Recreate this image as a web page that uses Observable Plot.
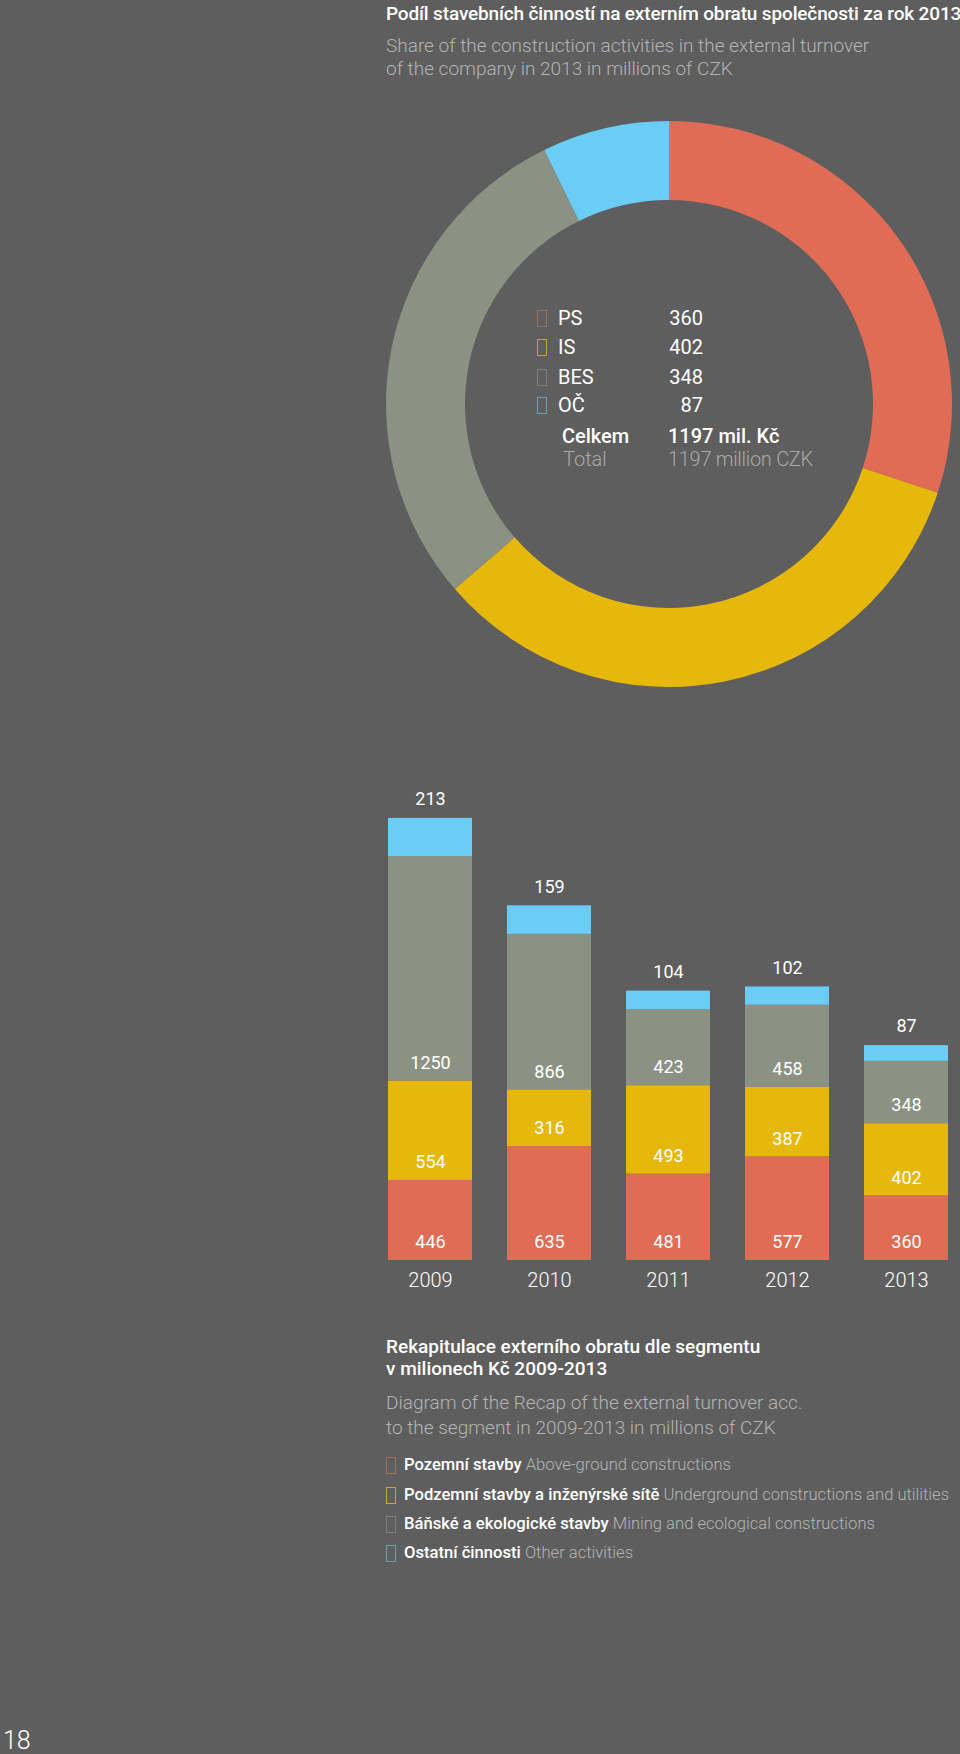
<!DOCTYPE html>
<html><head><meta charset="utf-8">
<script src="https://cdn.jsdelivr.net/npm/d3@7"></script>
<script src="https://cdn.jsdelivr.net/npm/@observablehq/plot@0.6"></script>
<style>
html,body{margin:0;padding:0;background:#5e5e5e;}
#page{position:relative;width:960px;height:1754px;background:#5e5e5e;overflow:hidden;font-family:Roboto,"Noto Sans",sans-serif;color:#fff;}
.abs{position:absolute;white-space:nowrap;}
.box{position:absolute;box-sizing:border-box;border:1px solid;width:10px;height:17px;}
</style></head><body><div id="page"></div>
<script>
// ---- data ----
const segments = ["PS", "IS", "BES", "OČ"];
const segmentCz = ["Pozemní stavby", "Podzemní stavby a inženýrské sítě", "Báňské a ekologické stavby", "Ostatní činnosti"];
const segmentEn = ["Above-ground constructions", "Underground constructions and utilities", "Mining and ecological constructions", "Other activities"];
const colors = ["#e06c55", "#e6b80b", "#8b9283", "#6bcdf5"];
const boxColors = ["#a0705f", "#c9a52a", "#7e7e7e", "#6d9db3"];
const years = ["2009", "2010", "2011", "2012", "2013"];
const valuesPS = [446, 635, 481, 577, 360];
const valuesIS = [554, 316, 493, 387, 402];
const valuesBES = [1250, 866, 423, 458, 348];
const valuesOC = [213, 159, 104, 102, 87];
const share2013 = [360, 402, 348, 87];
const totalLabelCz = "1197 mil. Kč";
const totalLabelEn = "1197 million CZK";

const page = document.getElementById("page");
function txt(content, x, cy, size, weight, color, opts = {}) {
  const d = document.createElement("div");
  d.className = "abs";
  d.style.fontSize = size + "px";
  d.style.lineHeight = (size * 1.2) + "px";
  d.style.fontWeight = weight;
  d.style.color = color;
  d.style.top = (cy - 0.587 * size) + "px";
  if (opts.right != null) { d.style.right = (960 - opts.right) + "px"; d.style.textAlign = "right"; }
  else d.style.left = x + "px";
  if (opts.ls) d.style.letterSpacing = opts.ls;
  if (opts.html) d.innerHTML = content; else d.textContent = content;
  page.appendChild(d);
  return d;
}
function box(x, cy, color) {
  const b = document.createElement("div");
  b.className = "box";
  b.style.left = x + "px";
  b.style.top = (cy - 8.5) + "px";
  b.style.borderColor = color;
  page.appendChild(b);
}

// ---- header ----
txt("Podíl stavebních činností na externím obratu společnosti za rok 2013", 386, 14, 19, 500, "#ffffff", {ls: "-0.15px"});
txt("Share of the construction activities in the external turnover", 386, 46, 19, 300, "#b4b4b4");
txt("of the company in 2013 in millions of CZK", 386, 69, 19, 300, "#b4b4b4");

// ---- donut ----
const donutData = segments.map((s, i) => ({segment: s, value: share2013[i]}));
const donutPlot = Plot.plot({
  width: 600, height: 600, margin: 0,
  x: {domain: [-300, 300], axis: null},
  y: {domain: [300, -300], axis: null},
  style: {background: "transparent", maxWidth: "none", overflow: "visible"},
  marks: [
    Plot.dot([0], {x: () => 0, y: () => 0, r: 0}),
    (index, scales) => {
      const sx = scales && scales.x ? scales.x : (v) => 300 + v;
      const sy = scales && scales.y ? scales.y : (v) => 300 + v;
      const cx = sx(0), cy = sy(0), k = Math.abs(sx(1) - sx(0));
      const arcs = d3.pie().sort(null).value(d => d.value)(donutData);
      const arc = d3.arc().innerRadius(204 * k).outerRadius(283 * k);
      const g = d3.create("svg:g").attr("transform", `translate(${cx},${cy})`);
      g.selectAll("path").data(arcs).join("path")
        .attr("d", arc)
        .attr("fill", (d, i) => colors[i]);
      return g.node();
    }
  ]
});
const donutWrap = document.createElement("div");
donutWrap.className = "abs";
donutWrap.style.left = (669 - 300) + "px";
donutWrap.style.top = (403.7 - 300) + "px";
donutWrap.appendChild(donutPlot);
page.appendChild(donutWrap);

// donut legend
const rowsY = [318, 347, 377, 405];
segments.forEach((s, i) => {
  box(537, rowsY[i], boxColors[i]);
  txt(s, 558, rowsY[i], 20, 400, "#ffffff");
  txt(String(share2013[i]), 0, rowsY[i], 20, 400, "#ffffff", {right: 703});
});
txt("Celkem", 562, 436, 20, 500, "#ffffff");
txt(totalLabelCz, 668, 436, 20, 500, "#ffffff");
txt("Total", 563, 459, 20, 300, "#a9a9a9");
txt(totalLabelEn, 668, 459, 20, 300, "#a9a9a9", {ls: "-0.3px"});

// ---- stacked bars ----
const seriesValues = [valuesPS, valuesIS, valuesBES, valuesOC];
const barData = years.flatMap((y, i) => segments.map((s, j) => ({year: y, segment: s, value: seriesValues[j][i]})));
const barPlot = Plot.plot({
  width: 960, height: 560,
  marginTop: 51.25, marginBottom: 60, marginLeft: 0, marginRight: 0,
  x: {domain: years, range: [386, 951], paddingInner: 0.29, paddingOuter: 0, label: null},
  y: {domain: [0, 2500], axis: null},
  color: {domain: segments, range: colors},
  style: {background: "transparent", color: "#ffffff", fontFamily: "Roboto, 'Noto Sans', sans-serif", maxWidth: "none", overflow: "visible"},
  marks: [
    Plot.barY(barData, {x: "year", y: "value", fill: "segment"}),
    Plot.text(barData, Plot.stackY1({x: "year", y: "value", text: d => d.segment === "OČ" ? null : String(d.value), dy: -18, fill: "#ffffff", fontSize: 18})),
    Plot.text(barData, Plot.stackY2({x: "year", y: "value", text: d => d.segment === "OČ" ? String(d.value) : null, dy: -19, fill: "#ffffff", fontSize: 18})),
    Plot.axisX({tickSize: 0, tickPadding: 12, fontSize: 20, fontWeight: 300, label: null, fill: "#ffffff"})
  ]
});
const barWrap = document.createElement("div");
barWrap.className = "abs";
barWrap.style.left = "0px";
barWrap.style.top = "760px";
barWrap.appendChild(barPlot);
page.appendChild(barWrap);

// ---- bottom texts ----
txt("Rekapitulace externího obratu dle segmentu", 386, 1347, 19, 500, "#ffffff");
txt("v milionech Kč 2009-2013", 386, 1369, 19, 500, "#ffffff");
txt("Diagram of the Recap of the external turnover acc.", 386, 1403, 19, 300, "#b4b4b4");
txt("to the segment in 2009-2013 in millions of CZK", 386, 1428, 19, 300, "#b4b4b4");
const legY = [1465, 1495, 1524, 1553];
segments.forEach((s, i) => {
  box(386, legY[i], boxColors[i]);
  txt(`<span style="font-weight:500;color:#fff">${segmentCz[i]}</span> <span style="font-weight:300;color:#b4b4b4">${segmentEn[i]}</span>`, 404, legY[i], 16.6, 400, "#fff", {html: true});
});

// page number
txt("18", 3, 1741, 25, 300, "#ffffff");
</script></body></html>
